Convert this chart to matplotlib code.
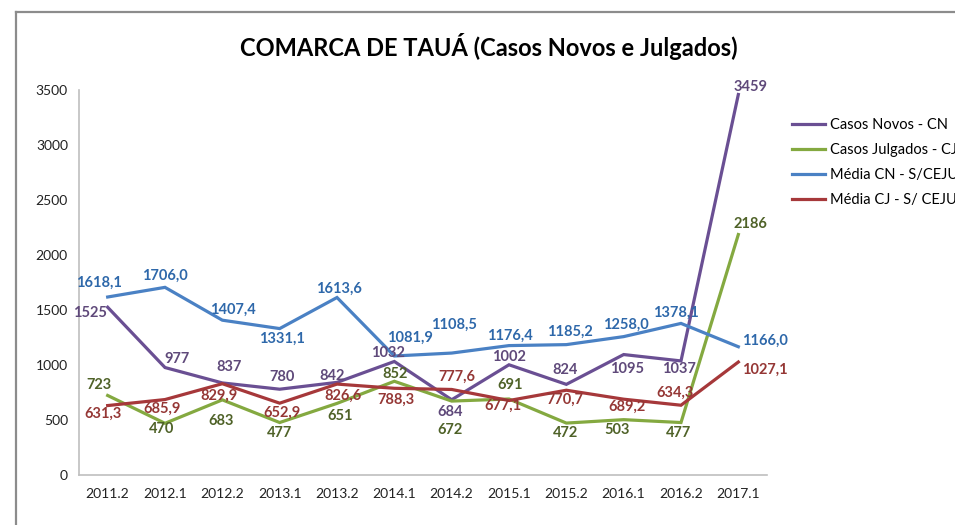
import matplotlib
matplotlib.use("Agg")
import matplotlib.pyplot as plt
from matplotlib.lines import Line2D

categories = ["2011.2", "2012.1", "2012.2", "2013.1", "2013.2", "2014.1",
              "2014.2", "2015.1", "2015.2", "2016.1", "2016.2", "2017.1"]
casos_novos = [1525, 977, 837, 780, 842, 1032, 684, 1002, 824, 1095, 1037, 3459]
casos_julgados = [723, 470, 683, 477, 651, 852, 672, 691, 472, 503, 477, 2186]
media_cn = [1618.1, 1706.0, 1407.4, 1331.1, 1613.6, 1081.9, 1108.5, 1176.4,
            1185.2, 1258.0, 1378.1, 1166.0]
media_cj = [631.3, 685.9, 829.9, 652.9, 826.6, 788.3, 777.6, 677.1,
            770.7, 689.2, 634.3, 1027.1]
series_names = ["Casos Novos - CN", "Casos Julgados - CJ",
                "Média CN - S/CEJUSC", "Média CJ - S/ CEJUSC"]
title = "COMARCA DE TAUÁ (Casos Novos e Julgados)"
yticks = [0, 500, 1000, 1500, 2000, 2500, 3000, 3500]

# label offsets in pixels (dx, dy up positive)
off_cn = [(-18, -6), (12, 9), (7, 16), (2, 12), (-5, 6), (-6, 8),
          (-2, -12), (0, 8), (-1, 14), (3, -14), (-2, -8), (12, 8)]
off_cj = [(-9, 10), (-3, -6), (-1, -21), (0, -10), (3, -13), (1, 7),
          (-2, -29), (1, 14), (-1, -10), (-7, -10), (-2, -10), (12, 11)]
off_mcn = [(-9, 14), (0, 12), (11, 10), (2, -10), (2, 9), (16, 18),
           (2, 28), (1, 10), (4, 13), (2, 12), (-5, 11), (4, 6)]
off_mcj = [(-5, -8), (-3, -9), (-3, -12), (2, -10), (6, -12), (2, -12),
           (5, 13), (-6, -5), (-1, -10), (3, -8), (-6, 12), (4, -8)]

line_colors = ["#6A4F93", "#84A940", "#4A81C4", "#A6383A"]
text_colors = ["#5F497A", "#4F6228", "#2E68AA", "#953735"]

fig = plt.figure(figsize=(9.55, 5.25), dpi=100)
ax = fig.add_axes([79 / 955, 50 / 525, (767 - 79) / 955, (475 - 90) / 525])

x = list(range(len(categories)))
all_series = [casos_novos, casos_julgados, media_cn, media_cj]
all_offs = [off_cn, off_cj, off_mcn, off_mcj]
handles = []
for s, name, lc, tc, offs in zip(all_series, series_names, line_colors, text_colors, all_offs):
    h, = ax.plot(x, s, color=lc, lw=2.3, solid_joinstyle="miter", label=name)
    handles.append(h)
    for i, (xi, v) in enumerate(zip(x, s)):
        lab = f"{v:.1f}".replace(".", ",") if isinstance(v, float) else str(v)
        dx, dy = offs[i]
        ha = "center"
        if (s is media_cn or s is media_cj) and i == len(x) - 1:
            ha = "left"
        ax.annotate(lab, (xi, v), xytext=(dx, dy), textcoords="offset pixels",
                    ha=ha, va="center", fontsize=10.5, fontweight="bold",
                    color=tc, family=["Lato", "DejaVu Sans"], clip_on=False)

ax.set_xlim(-0.5, len(categories) - 0.5)
ax.set_ylim(0, 3500)
ax.set_xticks(x)
ax.set_xticklabels(categories)
ax.set_yticks(yticks)
ax.tick_params(length=0, labelsize=10, colors="#222222", pad=8)
ax.tick_params(axis="x", pad=9)
for lbl in ax.get_xticklabels() + ax.get_yticklabels():
    lbl.set_family(["Lato", "DejaVu Sans"])
for sp in ["top", "right"]:
    ax.spines[sp].set_visible(False)
for sp in ["left", "bottom"]:
    ax.spines[sp].set_color("#BFBFBF")
    ax.spines[sp].set_linewidth(1.2)

fig.text(489 / 955, 1 - 47 / 525, title, ha="center", va="center",
         fontsize=17, fontweight="bold", color="#000000",
         family=["Lato", "DejaVu Sans"])

leg = fig.legend(handles=handles, loc="upper left",
                 bbox_to_anchor=(786 / 955, 1 - 112 / 525), frameon=False,
                 prop={"family": "Lato", "size": 10.5}, handlelength=2.3,
                 handletextpad=0.3, labelspacing=0.75, borderaxespad=0)

# chart frame border
fig.add_artist(Line2D([15.5 / 955, 15.5 / 955], [0, 1 - 12 / 525],
                      transform=fig.transFigure, color="#8C8C8C", lw=1.6))
fig.add_artist(Line2D([15.5 / 955, 1], [1 - 12 / 525, 1 - 12 / 525],
                      transform=fig.transFigure, color="#8C8C8C", lw=1.6))

fig.savefig("out.png", dpi=100)
